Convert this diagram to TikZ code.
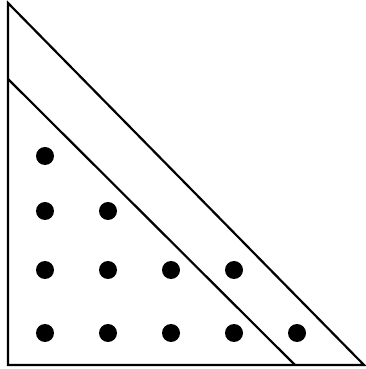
\documentclass[tikz,border=0pt]{standalone}
\begin{document}
\begin{tikzpicture}[x=1pt,y=1pt,
  edge/.style={line width=2.2pt,line join=miter},
  dot/.style={circle,fill=black,inner sep=0pt,minimum size=18pt}]
\useasboundingbox (0,0) rectangle (366,369);
\coordinate (tl) at (8,366);
\coordinate (bl) at (8,4);
\coordinate (br) at (364,4);
\coordinate (il) at (8,290);
\coordinate (ib) at (295,4);
\draw[edge] (tl) -- (bl) -- (br) -- cycle;
\draw[edge] (il) -- (ib);
% rows (image y): 333, 270, 211, 156
\foreach \i/\x in {1/45,2/108,3/171,4/234,5/297}
  \node[dot] (a\i) at (\x,36) {};
\foreach \i/\x in {1/45,2/108,3/171,4/234}
  \node[dot] (b\i) at (\x,99) {};
\foreach \i/\x in {1/45,2/108}
  \node[dot] (c\i) at (\x,158) {};
\node[dot] (d1) at (45,213) {};
\end{tikzpicture}
\end{document}
